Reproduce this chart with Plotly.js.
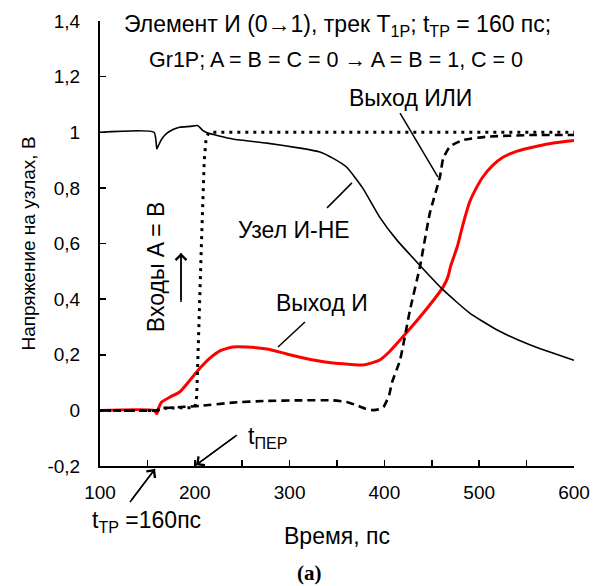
<!DOCTYPE html>
<html>
<head>
<meta charset="utf-8">
<script src="https://cdn.plot.ly/plotly-3.0.1.min.js"></script>
<style>html,body{margin:0;padding:0;background:#fff;}#chart{width:593px;height:586px;}</style>
</head>
<body>
<div id="chart"></div>
<script>
// ---- data ----
const nandT = [100, 157, 160, 162, 165, 170, 177, 184, 195, 203, 208, 213, 240, 276, 311, 332, 346, 360, 377, 395, 413, 437, 462, 490, 519, 554, 600];
const nandV = [1.0, 1.0, 0.94, 0.955, 0.975, 0.995, 1.010, 1.018, 1.021, 1.024, 1.008, 0.998, 0.976, 0.961, 0.943, 0.929, 0.906, 0.875, 0.80, 0.695, 0.613, 0.523, 0.433, 0.35, 0.289, 0.235, 0.18];

const inputT = [100, 160, 165, 200, 202, 204, 207, 210, 212, 215, 600];
const inputV = [0, 0, 0.008, 0.01, 0.05, 0.3, 0.6, 0.9, 0.98, 1.0, 1.0];

const orT = [100, 160, 171, 185, 205, 240, 276, 310, 346, 360, 371, 380, 388, 394, 399, 405, 408, 416.5, 427, 437.5, 448, 458.6, 462, 469, 483, 508, 554, 600];
const orV = [0, 0, 0.009, 0.012, 0.016, 0.028, 0.034, 0.036, 0.036, 0.03, 0.018, 0.006, 0.001, 0.004, 0.012, 0.055, 0.10, 0.181, 0.361, 0.517, 0.71, 0.84, 0.905, 0.948, 0.972, 0.984, 0.99, 0.99];

const andT = [100, 157, 160, 162, 165, 174, 184, 195, 205.5, 216, 226.6, 240, 255, 276, 297, 325, 346, 362, 377, 386, 395, 405, 416.5, 441, 462, 467, 470, 477, 483, 490, 497, 504, 514, 525, 540, 561, 580, 600];
const andV = [0, 0, -0.012, 0.01, 0.03, 0.048, 0.066, 0.109, 0.152, 0.188, 0.214, 0.228, 0.228, 0.221, 0.203, 0.181, 0.17, 0.166, 0.163, 0.17, 0.181, 0.21, 0.253, 0.35, 0.444, 0.48, 0.52, 0.59, 0.67, 0.75, 0.80, 0.84, 0.88, 0.91, 0.932, 0.95, 0.962, 0.97];

const xTickVals = [100, 200, 300, 400, 500, 600];
const xTickText = ['100', '200', '300', '400', '500', '600'];
const xMinorVals = [150, 250, 350, 450, 550];
const yTickVals = [-0.2, 0, 0.2, 0.4, 0.6, 0.8, 1.0, 1.2, 1.4];
const yTickText = ['-0,2', '0', '0,2', '0,4', '0,6', '0,8', '1', '1,2', '1,4'];

const titleLine1 = 'Элемент И (0→1), трек Т<sub>1Р</sub>; t<sub>ТР</sub> = 160 пс;';
const titleLine2 = 'Gr1P; A = B = C = 0 → A = B = 1, C = 0';
const xTitle = 'Время, пс';
const yTitle = 'Напряжение на узлах, В';

// ---- chart ----
const FONT = 'Liberation Sans, Arial, sans-serif';
const traces = [
  {x: andT, y: andV, mode: 'lines', line: {color: '#ff0000', width: 3, shape: 'spline', smoothing: 0.5}, name: 'Выход И'},
  {x: inputT, y: inputV, mode: 'lines', line: {color: '#000', width: 3, dash: '3px,5px'}, name: 'Входы A = B'},
  {x: orT, y: orV, mode: 'lines', line: {color: '#000', width: 2.6, dash: '8px,5px', shape: 'spline', smoothing: 0.5}, name: 'Выход ИЛИ'},
  {x: nandT, y: nandV, mode: 'lines', line: {color: '#000', width: 1.6, shape: 'spline', smoothing: 0.5}, name: 'Узел И-НЕ'}
];

function txt(text, x, y, size, extra) {
  return Object.assign({text: text, xref: 'paper', yref: 'paper', x: x, y: y, xanchor: 'center', yanchor: 'middle',
    showarrow: false, font: {family: FONT, size: size, color: '#000'}}, extra || {});
}
function arrow(x, y, ax, ay) {
  return {text: ' ', xref: 'paper', yref: 'paper', x: x, y: y, ax: ax, ay: ay, font: {size: 1},
    showarrow: true, arrowhead: 4, arrowsize: 1.5, arrowwidth: 1.4, arrowcolor: '#000', standoff: 0, startstandoff: 0};
}
function pline(ref, x0, y0, x1, y1) {
  return {type: 'line', xref: ref, yref: ref === 'paper' ? 'paper' : 'y', x0: x0, y0: y0, x1: x1, y1: y1, line: {color: '#000', width: 1.5}};
}

const layout = {
  width: 593, height: 586,
  margin: {l: 100, r: 19, t: 21, b: 120},
  paper_bgcolor: '#fff', plot_bgcolor: '#fff',
  showlegend: false,
  font: {family: FONT, size: 19, color: '#000'},
  xaxis: {
    range: [100, 600], tickvals: xTickVals, ticktext: xTickText,
    ticks: 'inside', ticklen: 6, tickwidth: 1.5, tickcolor: '#000',
    minor: {tickvals: xMinorVals, ticks: 'inside', ticklen: 6, tickwidth: 1.5, tickcolor: '#000'},
    showline: true, linecolor: '#000', linewidth: 2, showgrid: false, zeroline: false,
    tickfont: {family: FONT, size: 19}, ticklabelstandoff: 8,
    title: {text: xTitle, font: {family: FONT, size: 23}, standoff: 26}
  },
  yaxis: {
    range: [-0.2, 1.4], tickvals: yTickVals, ticktext: yTickText,
    ticks: 'inside', ticklen: 6, tickwidth: 1.5, tickcolor: '#000',
    showline: true, linecolor: '#000', linewidth: 2, showgrid: false, zeroline: false,
    tickfont: {family: FONT, size: 19}, ticklabelstandoff: 14,
    title: {text: yTitle, font: {family: FONT, size: 19}, standoff: 7}
  },
  annotations: [
    txt(titleLine1, 0.5, 0.989, 23),
    txt(titleLine2, 0.497, 0.913, 21.5),
    txt('Выход ИЛИ', 0.656, 0.826, 23),
    txt('Узел И-НЕ', 0.409, 0.530, 23),
    txt('Выход И', 0.468, 0.366, 23),
    txt('Входы A = B', 0.118, 0.449, 23, {textangle: -90}),
    txt('t<sub>ПЕР</sub>', 0.354, 0.065, 23),
    txt('t<sub>ТР</sub> =160пс', 0.099, -0.124, 23),
    txt('<b>(a)</b>', 0.442, -0.241, 21, {font: {family: 'Liberation Serif, Times New Roman, serif', size: 21, color: '#000'}}),
    arrow(0.1709, 0.4787, 0, 49),
    arrow(0.2025, 0.0022, 41, -30),
    arrow(0.116, -0.0067, -25, 33)
  ],
  shapes: [
    pline('x', 416.5, 1.069, 456.5, 0.839),
    pline('x', 339.5, 0.728, 365.8, 0.818),
    pline('x', 287.8, 0.228, 316.2, 0.318),
    pline('paper', 0.1709, 0.4787, 0.1709, 0.3685),
    pline('paper', 0.2025, 0.0022, 0.289, 0.0697),
    pline('paper', 0.116, -0.0067, 0.0633, -0.0809)
  ]
};

Plotly.newPlot('chart', traces, layout, {staticPlot: true, displayModeBar: false});
</script>
</body>
</html>
